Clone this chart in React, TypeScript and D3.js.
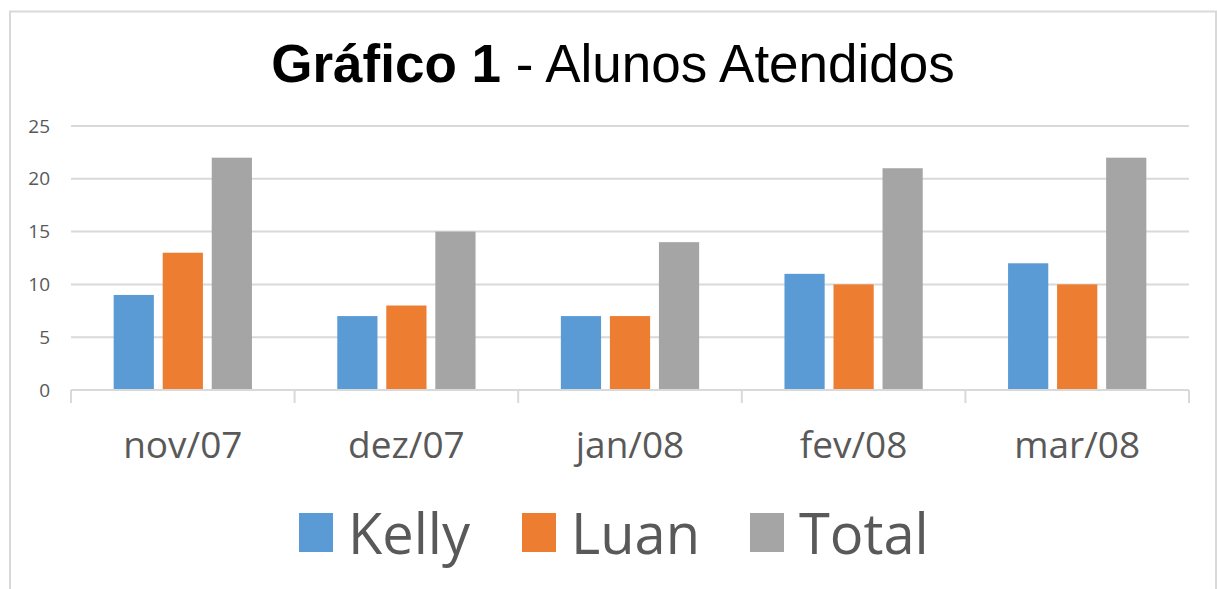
import React, { useEffect, useRef } from 'react';
import * as d3 from 'd3';

const months = ['nov/07', 'dez/07', 'jan/08', 'fev/08', 'mar/08'];
const seriesNames = ['Kelly', 'Luan', 'Total'];
const kelly = [9, 7, 7, 11, 12];
const luan = [13, 8, 7, 10, 10];
const total = [22, 15, 14, 21, 22];
const yTicks = [0, 5, 10, 15, 20, 25];
const colors = ['#5B9BD5', '#ED7D31', '#A5A5A5'];

const App: React.FC = () => {
  const svgRef = useRef<SVGSVGElement>(null);

  useEffect(() => {
    if (!svgRef.current) return;
    const svg = d3.select(svgRef.current);
    svg.selectAll('*').remove();

    const values = [kelly, luan, total];
    const font = '"Open Sans", sans-serif';

    // frame
    svg
      .append('rect')
      .attr('x', 10)
      .attr('y', 11.5)
      .attr('width', 1206)
      .attr('height', 600)
      .attr('fill', '#fff')
      .attr('stroke', '#d9d9d9')
      .attr('stroke-width', 2);

    // title
    const title = svg
      .append('text')
      .attr('x', 613)
      .attr('y', 82)
      .attr('text-anchor', 'middle')
      .attr('font-family', '"Liberation Sans", Arial, sans-serif')
      .attr('font-size', 53)
      .attr('fill', '#000');
    title.append('tspan').attr('font-weight', 'bold').text('Gráfico 1');
    title.append('tspan').text(' - Alunos Atendidos');

    // scales
    const x = d3.scaleBand<string>().domain(months).range([71, 1189]);
    const inner = d3
      .scaleBand<string>()
      .domain(seriesNames)
      .range([0, x.bandwidth()])
      .paddingInner(0.18)
      .paddingOuter(0.87);
    const y = d3.scaleLinear().domain([0, 25]).range([390, 126]);

    // gridlines
    svg
      .append('g')
      .selectAll('line')
      .data(yTicks.filter(t => t > 0))
      .join('line')
      .attr('x1', 71)
      .attr('x2', 1189)
      .attr('y1', d => y(d))
      .attr('y2', d => y(d))
      .attr('stroke', '#d9d9d9')
      .attr('stroke-width', 2);

    // y labels
    svg
      .append('g')
      .selectAll('text')
      .data(yTicks)
      .join('text')
      .attr('x', 50)
      .attr('y', d => y(d) + 6.5)
      .attr('text-anchor', 'end')
      .attr('font-family', font)
      .attr('font-size', 19)
      .attr('fill', '#595959')
      .text(d => d);

    // bars
    seriesNames.forEach((s, si) => {
      svg
        .append('g')
        .selectAll('rect')
        .data(values[si])
        .join('rect')
        .attr('x', (_, i) => (x(months[i]) ?? 0) + (inner(s) ?? 0))
        .attr('y', d => y(d))
        .attr('width', inner.bandwidth())
        .attr('height', d => y(0) - y(d))
        .attr('fill', colors[si]);
    });

    // x axis
    const xAxis = svg.append('g');
    xAxis
      .append('line')
      .attr('x1', 71)
      .attr('x2', 1189)
      .attr('y1', y(0))
      .attr('y2', y(0))
      .attr('stroke', '#d9d9d9')
      .attr('stroke-width', 2);
    const bounds = months.map(m => x(m) ?? 0).concat([1189]);
    xAxis
      .selectAll('line.tick')
      .data(bounds)
      .join('line')
      .attr('class', 'tick')
      .attr('x1', d => d)
      .attr('x2', d => d)
      .attr('y1', y(0))
      .attr('y2', y(0) + 13)
      .attr('stroke', '#d9d9d9')
      .attr('stroke-width', 2);
    xAxis
      .selectAll('text')
      .data(months)
      .join('text')
      .attr('x', d => (x(d) ?? 0) + x.bandwidth() / 2)
      .attr('y', 458)
      .attr('text-anchor', 'middle')
      .attr('font-family', font)
      .attr('font-size', 37)
      .attr('fill', '#595959')
      .text(d => d);

    // legend
    const legendX = [299, 522, 750];
    const legend = svg.append('g');
    seriesNames.forEach((s, si) => {
      legend
        .append('rect')
        .attr('x', legendX[si])
        .attr('y', 513)
        .attr('width', 34)
        .attr('height', 39)
        .attr('fill', colors[si]);
      legend
        .append('text')
        .attr('x', legendX[si] + 49)
        .attr('y', 554)
        .attr('font-family', font)
        .attr('font-size', 56)
        .attr('fill', '#595959')
        .text(s);
    });
  }, []);

  return (
    <svg
      ref={svgRef}
      width={1217}
      height={589}
      style={{ position: 'absolute', left: 0, top: 0, display: 'block' }}
    ></svg>
  );
};

export default App;
